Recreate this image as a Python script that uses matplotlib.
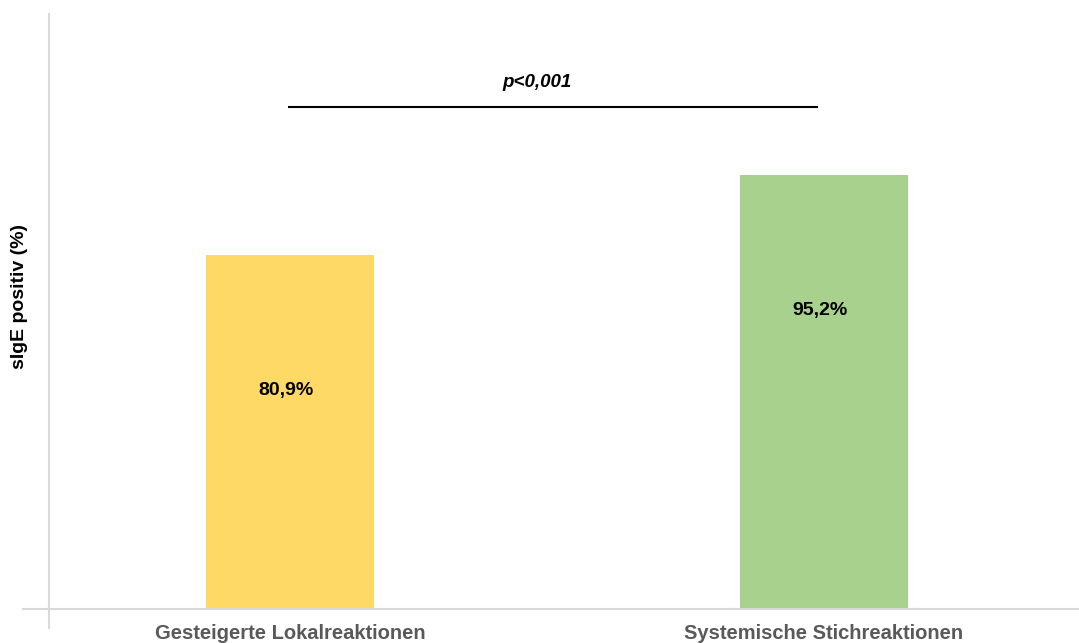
import numpy as np
import matplotlib.pyplot as plt
from matplotlib.lines import Line2D

plt.rcParams['font.family'] = ['Liberation Sans', 'DejaVu Sans']

# Data
categories = ["Gesteigerte Lokalreaktionen", "Systemische Stichreaktionen"]
values = [80.9, 95.2]
value_labels = ["80,9%", "95,2%"]
colors = ["#FFD966", "#A9D18E"]
p_text = "p<0,001"

fig = plt.figure(figsize=(10.79, 6.43), dpi=100)
ax = fig.add_axes([49 / 1079, 34 / 643, 1030 / 1079, 595 / 643])

x = np.arange(len(categories))
ax.bar(x, values, width=0.315, color=colors, zorder=2)

ax.set_xlim(-0.451, 1.4775)
ax.set_ylim(17.6, 124)

# value labels inside bars
for xi, v, lab in zip(x, values, value_labels):
    ax.text(xi - 0.008, v - 24.2, lab, ha="center", va="center",
            fontsize=14, fontweight="bold", color="black")

# significance bar
ax.plot([-0.004, 0.989], [107.3, 107.3], color="black", lw=1.5, solid_capstyle="butt")
ax.text(0.4625, 111.8, p_text, ha="center", va="center", fontsize=13.5,
        fontweight="bold", fontstyle="italic", color="black")

for s in ax.spines.values():
    s.set_visible(False)
ax.set_xticks([])
ax.set_yticks([])

# category labels below the baseline
for xi, cat in zip(x, categories):
    ax.text(xi, 17.6 - 4.4, cat, ha="center", va="center", fontsize=14.5,
            fontweight="bold", color="#595959", clip_on=False)

fig.text(20 / 1079, 1 - 296 / 643, "sIgE positiv (%)", rotation=90, ha="center",
         va="center", fontsize=14, fontweight="bold", color="black")

# axis lines crossing at the origin
fig.add_artist(Line2D([49 / 1079, 49 / 1079], [1 - 14 / 643, 1 - 628 / 643],
                      color="#d9d9d9", lw=1.5))
fig.add_artist(Line2D([23 / 1079, 1.0], [1 - 609 / 643, 1 - 609 / 643],
                      color="#d9d9d9", lw=1.5))

fig.savefig("out.png", dpi=100)
